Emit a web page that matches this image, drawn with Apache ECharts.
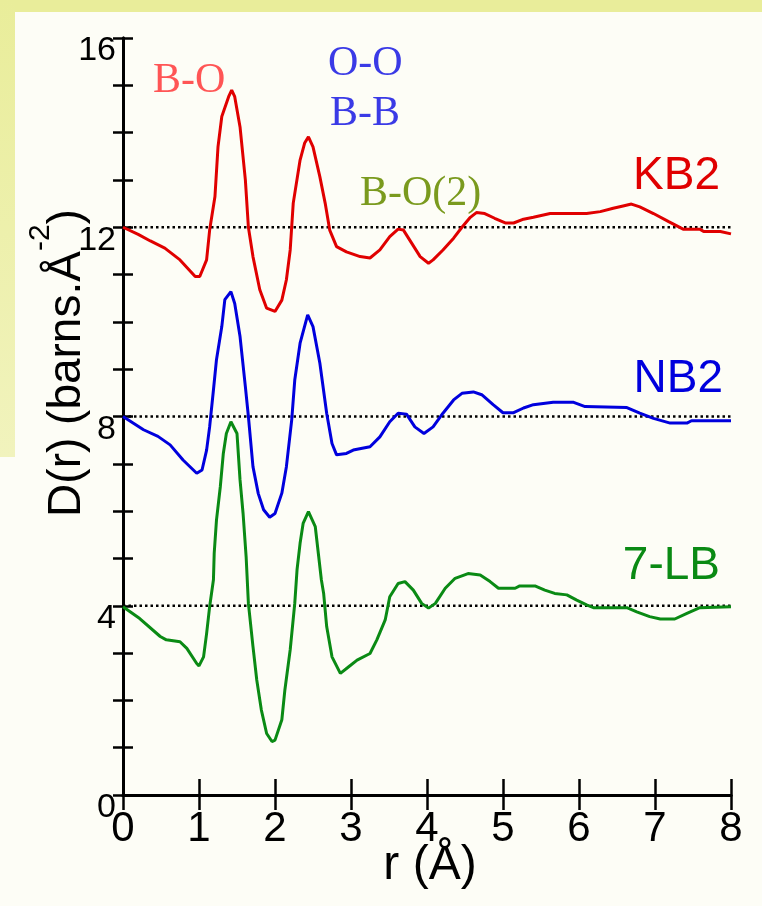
<!DOCTYPE html>
<html>
<head>
<meta charset="utf-8">
<script src="https://cdn.jsdelivr.net/npm/echarts@6/dist/echarts.min.js"></script>
<style>html,body{margin:0;padding:0;background:#fdfdf6;}#c{width:762px;height:906px;}</style>
</head>
<body>
<div id="c"></div>
<script>
// ---- data ----
const xTicks = [0,1,2,3,4,5,6,7,8];
const yTickLabels = [0,4,8,12,16];
const baselines = [12, 8, 4];

const rKB2 = [0,0.2,0.36,0.55,0.75,0.95,1.01,1.10,1.14,1.21,1.25,1.30,1.39,1.43,1.47,1.54,1.61,1.65,1.71,1.80,1.89,2.00,2.09,2.15,2.20,2.24,2.33,2.39,2.44,2.50,2.59,2.66,2.72,2.81,2.94,3.12,3.25,3.38,3.51,3.62,3.69,3.80,3.91,4.02,4.08,4.21,4.35,4.46,4.57,4.65,4.76,4.89,5.03,5.14,5.27,5.40,5.62,6.10,6.28,6.45,6.58,6.69,6.80,6.98,7.18,7.37,7.59,7.64,7.86,8.00];
const dKB2 = [12.0,11.85,11.71,11.56,11.31,10.96,10.96,11.31,11.94,12.65,13.70,14.34,14.76,14.90,14.76,14.12,13.00,12.00,11.38,10.68,10.29,10.22,10.46,10.89,11.52,12.51,13.42,13.78,13.91,13.70,13.07,12.51,11.94,11.59,11.48,11.38,11.35,11.52,11.80,11.96,11.94,11.66,11.38,11.24,11.31,11.52,11.77,12.00,12.21,12.31,12.29,12.19,12.09,12.09,12.17,12.21,12.29,12.29,12.33,12.40,12.45,12.49,12.43,12.29,12.12,11.96,11.96,11.91,11.91,11.86];

const rNB2 = [0,0.27,0.46,0.62,0.79,0.97,1.04,1.10,1.14,1.19,1.23,1.30,1.34,1.42,1.47,1.54,1.61,1.65,1.71,1.78,1.85,1.93,2.00,2.09,2.15,2.22,2.26,2.33,2.43,2.50,2.59,2.68,2.75,2.81,2.94,3.03,3.25,3.38,3.51,3.62,3.73,3.84,3.96,4.08,4.21,4.35,4.46,4.61,4.72,4.87,5.00,5.14,5.27,5.40,5.66,5.93,6.08,6.63,6.80,6.98,7.20,7.42,7.48,8.00];
const dNB2 = [8.0,7.72,7.58,7.40,7.08,6.80,6.87,7.29,7.78,8.56,9.20,9.90,10.47,10.64,10.39,9.69,8.63,8.00,6.94,6.37,6.03,5.87,5.95,6.38,6.94,7.93,8.77,9.55,10.15,9.90,9.13,8.07,7.43,7.19,7.22,7.29,7.36,7.57,7.89,8.07,8.05,7.78,7.64,7.78,8.07,8.35,8.49,8.52,8.46,8.25,8.08,8.08,8.18,8.25,8.30,8.30,8.21,8.19,8.07,7.96,7.86,7.86,7.91,7.91];

const rLB7 = [0,0.22,0.49,0.57,0.75,0.84,0.97,1.00,1.06,1.10,1.14,1.19,1.20,1.23,1.28,1.32,1.36,1.42,1.50,1.54,1.58,1.62,1.65,1.71,1.76,1.82,1.89,1.96,2.00,2.09,2.13,2.20,2.26,2.29,2.33,2.37,2.44,2.53,2.57,2.61,2.64,2.68,2.75,2.86,2.97,3.08,3.25,3.34,3.45,3.51,3.62,3.71,3.82,3.93,4.02,4.11,4.24,4.37,4.54,4.70,4.83,4.94,5.16,5.22,5.42,5.55,5.68,5.84,5.97,6.10,6.19,6.63,6.76,6.93,7.07,7.26,7.42,7.59,8.00];
const dLB7 = [3.98,3.73,3.35,3.28,3.24,3.10,2.78,2.73,2.92,3.41,3.98,4.55,5.11,5.81,6.51,7.22,7.64,7.89,7.64,6.66,5.95,5.04,4.05,3.14,2.43,1.80,1.30,1.13,1.16,1.59,2.22,3.07,4.05,4.76,5.32,5.74,5.99,5.67,5.11,4.55,4.26,3.56,2.92,2.57,2.71,2.85,2.99,3.28,3.70,4.19,4.47,4.51,4.33,4.05,3.95,4.05,4.37,4.58,4.68,4.65,4.51,4.37,4.37,4.42,4.42,4.33,4.26,4.23,4.12,4.02,3.96,3.96,3.87,3.77,3.72,3.72,3.84,3.96,3.98];

const seriesNames = ['KB2','NB2','7-LB'];
const annotations = ['B-O','O-O','B-B','B-O(2)'];

// ---- build ----
const zip = (a,b) => a.map((v,i)=>[v,b[i]]);
const SANS = '"Liberation Sans", Arial, Helvetica, sans-serif';
const SERIF = '"Liberation Serif", "Times New Roman", serif';

const chart = echarts.init(document.getElementById('c'), null, {renderer:'canvas'});

const axisCommon = {
  type:'value', axisLine:{show:true, lineStyle:{color:'#000', width:3}},
  splitLine:{show:false}
};

const option = {
  backgroundColor:'#fdfdf6',
  animation:false,
  grid:{left:123, right:31, top:38, bottom:111, containLabel:false},
  xAxis:[
    Object.assign({}, axisCommon, {min:0, max:8, interval:1, position:'bottom',
      axisTick:{inside:true, length:16, lineStyle:{color:'#000', width:2.5}},
      axisLabel:{fontFamily:SANS, fontSize:42, lineHeight:42, color:'#000', margin:13,
        formatter:v=> xTicks.includes(v)? String(v):''}}),
    Object.assign({}, axisCommon, {min:0, max:8, interval:1, position:'top',
      axisTick:{inside:true, length:15, lineStyle:{color:'#000', width:2.5}},
      axisLabel:{show:false}})
  ],
  yAxis:[
    Object.assign({}, axisCommon, {min:0, max:16, interval:1, position:'left',
      axisTick:{inside:true, length:10, lineStyle:{color:'#000', width:2.5}},
      axisLabel:{fontFamily:SANS, fontSize:34, lineHeight:26, color:'#000', margin:7,
        verticalAlign:'top',
        formatter:v=> yTickLabels.includes(v)? String(v):''}}),
    Object.assign({}, axisCommon, {min:0, max:16, interval:1, position:'right',
      axisTick:{inside:true, length:10, lineStyle:{color:'#000', width:2.5}},
      axisLabel:{show:false}})
  ],
  series:[
    ...baselines.map(b=>({type:'line', xAxisIndex:0, yAxisIndex:0, showSymbol:false, silent:true,
      data:[[0,b],[8,b]], lineStyle:{color:'#000', width:2.5, type:[2.5,3]}, z:1})),
    {name:seriesNames[0], type:'line', showSymbol:false, data:zip(rKB2,dKB2), lineStyle:{color:'#e00000', width:3}, z:3},
    {name:seriesNames[1], type:'line', showSymbol:false, data:zip(rNB2,dNB2), lineStyle:{color:'#0000dd', width:3}, z:3},
    {name:seriesNames[2], type:'line', showSymbol:false, data:zip(rLB7,dLB7), lineStyle:{color:'#0a8a14', width:3}, z:3}
  ],
  graphic:[
    {type:'rect', z:-10, shape:{x:0,y:0,width:762,height:12}, style:{fill:'#e9ed9a'}},
    {type:'rect', z:-10, shape:{x:0,y:0,width:15,height:457},
      style:{fill:new echarts.graphic.LinearGradient(0,0,0,1,[{offset:0,color:'#e9ed9a'},{offset:1,color:'#f1f3bd'}])}},
    {type:'text', z:100, style:{text:annotations[0], x:153, y:81, font:'42px '+SERIF, fill:'#ff5555', textAlign:'left', textVerticalAlign:'middle'}},
    {type:'text', z:100, style:{text:annotations[1], x:328, y:64, font:'42px '+SERIF, fill:'#3a3ae6', textAlign:'left', textVerticalAlign:'middle'}},
    {type:'text', z:100, style:{text:annotations[2], x:330, y:114, font:'42px '+SERIF, fill:'#3a3ae6', textAlign:'left', textVerticalAlign:'middle'}},
    {type:'text', z:100, style:{text:annotations[3], x:360, y:194, font:'42px '+SERIF, fill:'#7a9a1e', textAlign:'left', textVerticalAlign:'middle'}},
    {type:'text', z:100, style:{text:seriesNames[0], x:720, y:176, font:'46px '+SANS, fill:'#e00000', textAlign:'right', textVerticalAlign:'middle'}},
    {type:'text', z:100, style:{text:seriesNames[1], x:723, y:379, font:'46px '+SANS, fill:'#0000dd', textAlign:'right', textVerticalAlign:'middle'}},
    {type:'text', z:100, style:{text:seriesNames[2], x:720, y:566, font:'46px '+SANS, fill:'#0a8a14', textAlign:'right', textVerticalAlign:'middle'}},
    {type:'text', z:100, style:{text:'r (Å)', x:430, y:866, font:'48px '+SANS, fill:'#000', textAlign:'center', textVerticalAlign:'middle'}},
    {type:'text', z:100, x:58, y:363, rotation:Math.PI/2,
      style:{text:'{m|D(r) (barns.Å}{s|-2}{m|)}', x:0, y:0, textAlign:'center', textVerticalAlign:'middle', fill:'#000',
        rich:{m:{fontFamily:SANS, fontSize:46, lineHeight:64, verticalAlign:'bottom', fill:'#000'},
              s:{fontFamily:SANS, fontSize:30, lineHeight:30, verticalAlign:'top', fill:'#000'}}}}
  ]
};
chart.setOption(option);
</script>
</body>
</html>
